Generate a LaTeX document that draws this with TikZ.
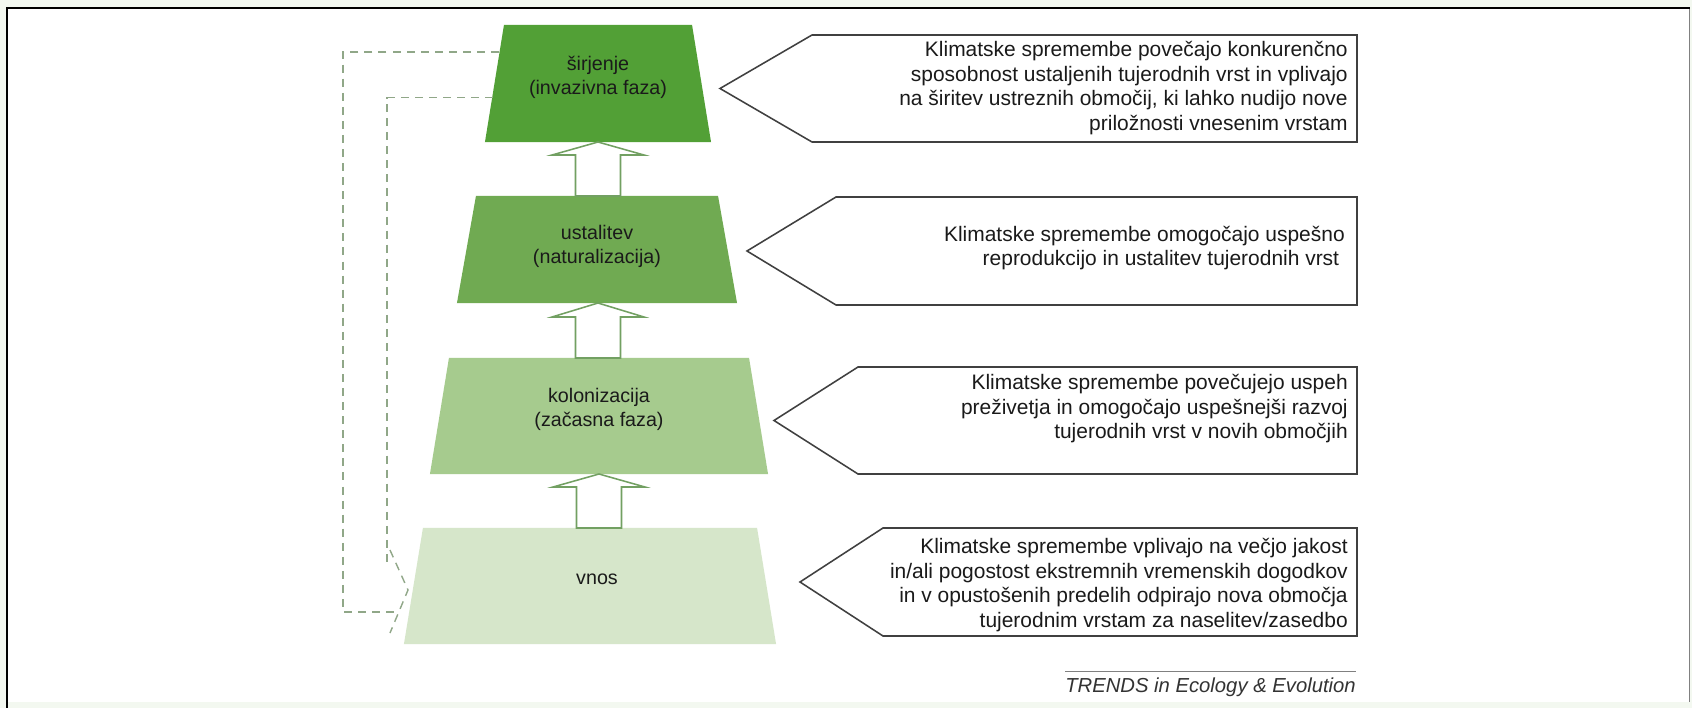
\documentclass[tikz,border=0pt]{standalone}
\usepackage{fontspec}
\setmainfont{Liberation Sans}
\usetikzlibrary{calc,positioning}
\definecolor{pagebg}{HTML}{F3F8F0}
\definecolor{spreadc}{HTML}{52A036}
\definecolor{estabc}{HTML}{70AA52}
\definecolor{colonc}{HTML}{A6CB8E}
\definecolor{introc}{HTML}{D6E6CA}
\definecolor{arrowc}{HTML}{72A062}
\definecolor{boxline}{HTML}{404040}
\definecolor{dashc}{HTML}{90A788}
\definecolor{inkc}{HTML}{1A1A1A}
\newcommand{\stagefont}{\fontsize{14}{17.1}\selectfont}
\newcommand{\calloutfont}{\fontsize{14.9}{17.4}\selectfont}
\tikzset{
  stage/.style={
    rectangle, outer sep=0pt, inner sep=0pt,
    path picture={
      \fill[#1] ([xshift=13.5pt]path picture bounding box.north west)
        -- ([xshift=-13.5pt]path picture bounding box.north east)
        -- (path picture bounding box.south east)
        -- (path picture bounding box.south west) -- cycle;
    }
  },
  stagelbl/.style={align=center, font=\stagefont, text=inkc,
    inner sep=0pt, yshift=4.5pt},
  growth/.style={draw=arrowc, fill=white, line width=1.1pt, line join=miter},
  callout/.style={draw=boxline, fill=white, line width=1.1pt, line join=miter},
  calltext/.style={anchor=east, align=right, inner sep=0pt,
    font=\calloutfont, text=inkc},
  feedback/.style={draw=dashc, line width=1pt, dash pattern=on 5.7pt off 4.3pt},
}

\begin{document}
\begin{tikzpicture}[x=0.025cm, y=-0.025cm]

  % frame
  \fill[pagebg] (0,0) rectangle (1692,708);
  \useasboundingbox (0,0) rectangle (1692,708);
  \fill[white] (7,8) rectangle (1689,702);
  \draw[gray, line width=0.7pt] (1689,9) -- (1689,702);
  \draw[black, line width=2pt] (7,708) -- (7,8) -- (1690,8);

  % stages
  \node[stage=spreadc, minimum width=5.65cm, minimum height=2.925cm,
        label={[stagelbl]center:širjenje\\(invazivna faza)}]
    (sirj) at (598,83.5) {};
  \node[stage=estabc, minimum width=7cm, minimum height=2.675cm,
        label={[stagelbl, yshift=-2pt]center:ustalitev\\(naturalizacija)}]
    (ustal) at (597,249.5) {};
  \node[stage=colonc, minimum width=8.45cm, minimum height=2.9cm,
        label={[stagelbl]center:kolonizacija\\(začasna faza)}]
    (kolon) at (599,416) {};
  \node[stage=introc, minimum width=9.3cm, minimum height=2.9cm,
        label={[stagelbl, xshift=5pt]center:vnos}]
    (vnos) at (590,586) {};

  % block arrows
  \draw[growth] ($(ustal.north -| sirj.south)+(-22.5,0)$)
    -- ($(sirj.south)+(-22.5,13)$) -- ($(sirj.south)+(-46,13)$)
    -- (sirj.south) -- ($(sirj.south)+(46,13)$) -- ($(sirj.south)+(22.5,13)$)
    -- ($(ustal.north -| sirj.south)+(22.5,0)$) -- cycle;
  \draw[growth] ($(kolon.north -| sirj.south)+(-22.5,0)$)
    -- ($(ustal.south -| sirj.south)+(-22.5,14)$) -- ($(ustal.south -| sirj.south)+(-46,14)$)
    -- (ustal.south -| sirj.south) -- ($(ustal.south -| sirj.south)+(46,14)$)
    -- ($(ustal.south -| sirj.south)+(22.5,14)$)
    -- ($(kolon.north -| sirj.south)+(22.5,0)$) -- cycle;
  \draw[growth] ($(vnos.north -| kolon.south)+(-22.5,0)$)
    -- ($(kolon.south)+(-22.5,13)$) -- ($(kolon.south)+(-46,13)$)
    -- (kolon.south) -- ($(kolon.south)+(46,13)$) -- ($(kolon.south)+(22.5,13)$)
    -- ($(vnos.north -| kolon.south)+(22.5,0)$) -- cycle;

  % feedback from spread back to introduction
  \coordinate (fbhi) at ($(sirj.north west)!0.23!(sirj.south west)+(14,0)$);
  \coordinate (fblo) at ($(sirj.north west)!0.62!(sirj.south west)+(8,0)$);
  \coordinate (fbtip) at (408,590);
  \draw[feedback] (fbhi) -| (343,612) -- (398,612);
  \draw[feedback] (fblo) -| (387,568);
  \draw[feedback] (390,550) -- (fbtip) -- (390,633);

  % callouts
  \draw[callout] (720,88.5) -- (812,35) -- (1357,35) -- (1357,142) -- (812,142) -- cycle;
  \draw[callout] (747,251) -- (836,197) -- (1357,197) -- (1357,305) -- (836,305) -- cycle;
  \draw[callout] (774,420.5) -- (858,367) -- (1357,367) -- (1357,474) -- (858,474) -- cycle;
  \draw[callout] (800,582) -- (883,528) -- (1357,528) -- (1357,636) -- (883,636) -- cycle;

  \node[calltext] (c1) at (1348,88) {Klimatske spremembe povečajo konkurenčno\\
    sposobnost ustaljenih tujerodnih vrst in vplivajo\\
    na širitev ustreznih območij, ki lahko nudijo nove\\
    priložnosti vnesenim vrstam};
  \node[calltext] (c2) at (1345,248) {Klimatske spremembe omogočajo uspešno\\
    reprodukcijo in ustalitev tujerodnih vrst\hspace*{4pt}};
  \node[calltext] (c3) at (1348,409) {Klimatske spremembe povečujejo uspeh\\
    preživetja in omogočajo uspešnejši razvoj\\
    tujerodnih vrst v novih območjih};
  \node[calltext] (c4) at (1348,585) {Klimatske spremembe vplivajo na večjo jakost\\
    in/ali pogostost ekstremnih vremenskih dogodkov\\
    in v opustošenih predelih odpirajo nova območja\\
    tujerodnim vrstam za naselitev/zasedbo};

  % source
  \node[anchor=east, inner sep=0pt, font=\fontsize{14.4}{17}\selectfont\itshape,
        text=black!80] (trends) at (1356,687) {TRENDS in Ecology \& Evolution};
  \draw[gray, line width=0.8pt] ([yshift=4pt]trends.north west) -- ([yshift=4pt]trends.north east);

\end{tikzpicture}
\end{document}
